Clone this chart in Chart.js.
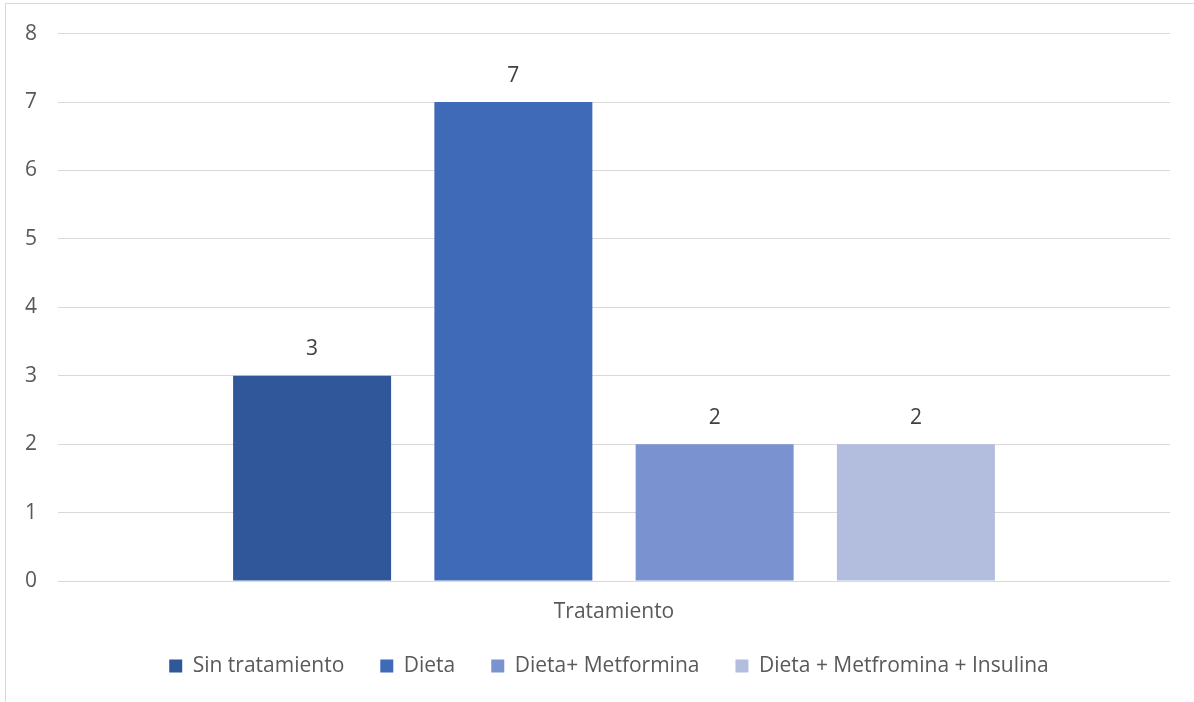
<!DOCTYPE html>
<html>
<head>
<meta charset="utf-8">
<title>Tratamiento</title>
<script src="https://cdn.jsdelivr.net/npm/chart.js@4.4.1/dist/chart.umd.min.js"></script>
<style>
  html, body { margin: 0; padding: 0; background: #fff; overflow: hidden; }
  #frame {
    position: absolute; left: 5px; top: 3px;
    width: 1400px; height: 900px;
    border: 1px solid #d9d9d9;
  }
  #wrap { position: absolute; left: 0; top: 0; width: 1194px; height: 702px; }
</style>
</head>
<body>
<div id="frame"></div>
<div id="wrap"><canvas id="treatmentChart"></canvas></div>
<script>
const categories = ["Tratamiento"];
const seriesNames = [
  "Sin tratamiento",
  "Dieta",
  "Dieta+ Metformina",
  "Dieta + Metfromina + Insulina",
];
const seriesValues = [3, 7, 2, 2];
const seriesColors = ["#30579a", "#3f6ab7", "#7a92cf", "#b3bedf"];
const yTicks = [0, 1, 2, 3, 4, 5, 6, 7, 8];

const FONT = "'Open Sans'";
const FONT_SIZE = 21;
const TEXT = "#595959";

// one dataset per treatment, all inside the single category
const datasets = seriesNames.map((name, i) => ({
  label: name,
  data: [seriesValues[i]],
  backgroundColor: seriesColors[i],
  borderWidth: 0,
  barPercentage: 0.785,
  categoryPercentage: 0.724,
}));

// value written above each bar
const valueLabels = {
  id: "valueLabels",
  afterDatasetsDraw(chart) {
    const ctx = chart.ctx;
    ctx.save();
    ctx.font = `${FONT_SIZE}px ${FONT}`;
    ctx.fillStyle = "#404040";
    ctx.textAlign = "center";
    ctx.textBaseline = "middle";
    chart.data.datasets.forEach((ds, i) => {
      chart.getDatasetMeta(i).data.forEach((bar, j) => {
        ctx.fillText(ds.data[j], bar.x, bar.y - 26.5);
      });
    });
    ctx.restore();
  },
};

// nudge the legend box: a bit right and up from where the layout puts it
const legendNudge = {
  id: "legendNudge",
  afterLayout(chart) {
    const lg = chart.legend;
    if (!lg) return;
    const dx = 24;
    const h = lg.bottom - lg.top;
    lg.left += dx;
    lg.right += dx;
    lg.top = 619.5;
    lg.bottom = lg.top + h;
  },
};

const ctx = document.getElementById("treatmentChart");

new Chart(ctx, {
  type: "bar",
  data: { labels: categories, datasets: datasets },
  plugins: [valueLabels, legendNudge],
  options: {
    responsive: true,
    maintainAspectRatio: false,
    animation: false,
    layout: { padding: { top: 33, right: 24, bottom: 9, left: 0 } },
    scales: {
      x: {
        grid: { display: false, drawTicks: false },
        border: { display: false },
        ticks: { color: TEXT, font: { family: FONT, size: FONT_SIZE }, padding: 18 },
        afterFit(scale) {
          scale.height = 45;
        },
      },
      y: {
        min: yTicks[0],
        max: yTicks[yTicks.length - 1],
        afterBuildTicks(scale) {
          scale.ticks = yTicks.map((v) => ({ value: v }));
        },
        grid: { color: "#d9d9d9", lineWidth: 1, drawTicks: false },
        border: { display: false },
        ticks: { color: TEXT, font: { family: FONT, size: FONT_SIZE }, padding: 21 },
        afterFit(scale) {
          scale.width = 58;
        },
      },
    },
    plugins: {
      legend: {
        position: "bottom",
        labels: {
          color: TEXT,
          font: { family: FONT, size: FONT_SIZE },
          boxWidth: 13,
          boxHeight: 13,
          padding: 36,
        },
      },
      tooltip: { enabled: false },
    },
  },
});
</script>
</body>
</html>
